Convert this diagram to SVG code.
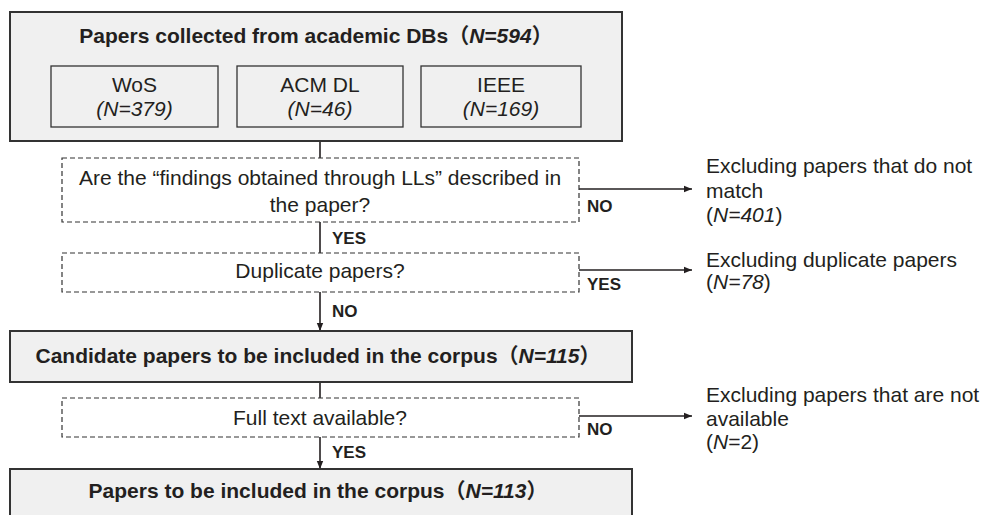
<svg xmlns="http://www.w3.org/2000/svg" width="987" height="515" viewBox="0 0 987 515">
<defs>
<style>
.t{font-family:"Liberation Sans","Noto Sans CJK SC",Arial,sans-serif;font-size:21px;fill:#231f20}
.b{font-weight:bold;font-size:21px}
.s{font-family:"Liberation Sans",Arial,sans-serif;font-size:17px;font-weight:bold;fill:#231f20}
.box{fill:#f0f0f0;stroke:#333;stroke-width:2}
.inner{fill:#f0f0f0;stroke:#333;stroke-width:1.3}
.dash{fill:#fff;stroke:#333;stroke-width:1.2;stroke-dasharray:5,3}
.ln{stroke:#231f20;stroke-width:1.6;fill:none}
</style>
<marker id="ah2" viewBox="0 0 10 10" refX="10" refY="5" markerWidth="9" markerHeight="8" orient="auto" markerUnits="userSpaceOnUse">
<path d="M0,1 L10,5 L0,9 z" fill="#231f20"/>
</marker>
</defs>
<rect width="987" height="515" fill="#fff"/>
<g id="connectors">
<line class="ln" x1="320" y1="141" x2="320" y2="158"/>
<line class="ln" x1="320" y1="222" x2="320" y2="253"/>
<line class="ln" x1="320" y1="292" x2="320" y2="331" marker-end="url(#ah2)"/>
<line class="ln" x1="320" y1="382" x2="320" y2="398"/>
<line class="ln" x1="320" y1="437" x2="320" y2="469" marker-end="url(#ah2)"/>
<line class="ln" x1="579" y1="189" x2="692" y2="189" marker-end="url(#ah2)"/>
<line class="ln" x1="579" y1="270" x2="692" y2="270" marker-end="url(#ah2)"/>
<line class="ln" x1="579" y1="416" x2="692" y2="416" marker-end="url(#ah2)"/>
<text class="s" x="332" y="244">YES</text>
<text class="s" x="332" y="317">NO</text>
<text class="s" x="332" y="458">YES</text>
<text class="s" x="587" y="212">NO</text>
<text class="s" x="587" y="290">YES</text>
<text class="s" x="587" y="435">NO</text>
</g>
<g id="collected">
<rect class="box" x="10" y="12" width="612" height="129"/>
<text class="t b" x="316" y="43" text-anchor="middle">Papers collected from academic DBs（<tspan font-style="italic">N=594</tspan>）</text>
</g>
<g id="wos">
<rect class="inner" x="51" y="66" width="167" height="61"/>
<text class="t" x="134.5" y="92" text-anchor="middle">WoS</text>
<text class="t" x="134.5" y="116" text-anchor="middle" font-style="italic">(N=379)</text>
</g>
<g id="acm">
<rect class="inner" x="237" y="66" width="166" height="61"/>
<text class="t" x="320" y="92" text-anchor="middle">ACM DL</text>
<text class="t" x="320" y="116" text-anchor="middle" font-style="italic">(N=46)</text>
</g>
<g id="ieee">
<rect class="inner" x="421" y="66" width="160" height="61"/>
<text class="t" x="501" y="92" text-anchor="middle">IEEE</text>
<text class="t" x="501" y="116" text-anchor="middle" font-style="italic">(N=169)</text>
</g>
<g id="q-findings">
<rect class="dash" x="62" y="158" width="517" height="64"/>
<text class="t" x="320" y="185" text-anchor="middle">Are the “findings obtained through LLs” described in</text>
<text class="t" x="320" y="212" text-anchor="middle">the paper?</text>
</g>
<g id="ex-nomatch">
<text class="t" x="706" y="173">Excluding papers that do not</text>
<text class="t" x="706" y="198">match</text>
<text class="t" x="706" y="222">(<tspan font-style="italic">N=401</tspan>)</text>
</g>
<g id="q-duplicate">
<rect class="dash" x="62" y="253" width="517" height="39"/>
<text class="t" x="320" y="278" text-anchor="middle">Duplicate papers?</text>
</g>
<g id="ex-duplicate">
<text class="t" x="706" y="267">Excluding duplicate papers</text>
<text class="t" x="706" y="289">(<tspan font-style="italic">N=78</tspan>)</text>
</g>
<g id="candidate">
<rect class="box" x="10" y="331" width="622" height="51"/>
<text class="t b" x="318" y="363" text-anchor="middle">Candidate papers to be included in the corpus（<tspan font-style="italic">N=115</tspan>）</text>
</g>
<g id="q-fulltext">
<rect class="dash" x="62" y="398" width="517" height="39"/>
<text class="t" x="320" y="425" text-anchor="middle">Full text available?</text>
</g>
<g id="ex-unavailable">
<text class="t" x="706" y="402">Excluding papers that are not</text>
<text class="t" x="706" y="426">available</text>
<text class="t" x="706" y="449">(<tspan font-style="italic">N</tspan>=2)</text>
</g>
<g id="included">
<rect class="box" x="10" y="469" width="622" height="60"/>
<text class="t b" x="318" y="498" text-anchor="middle">Papers to be included in the corpus（<tspan font-style="italic">N=113</tspan>）</text>
</g>
</svg>
